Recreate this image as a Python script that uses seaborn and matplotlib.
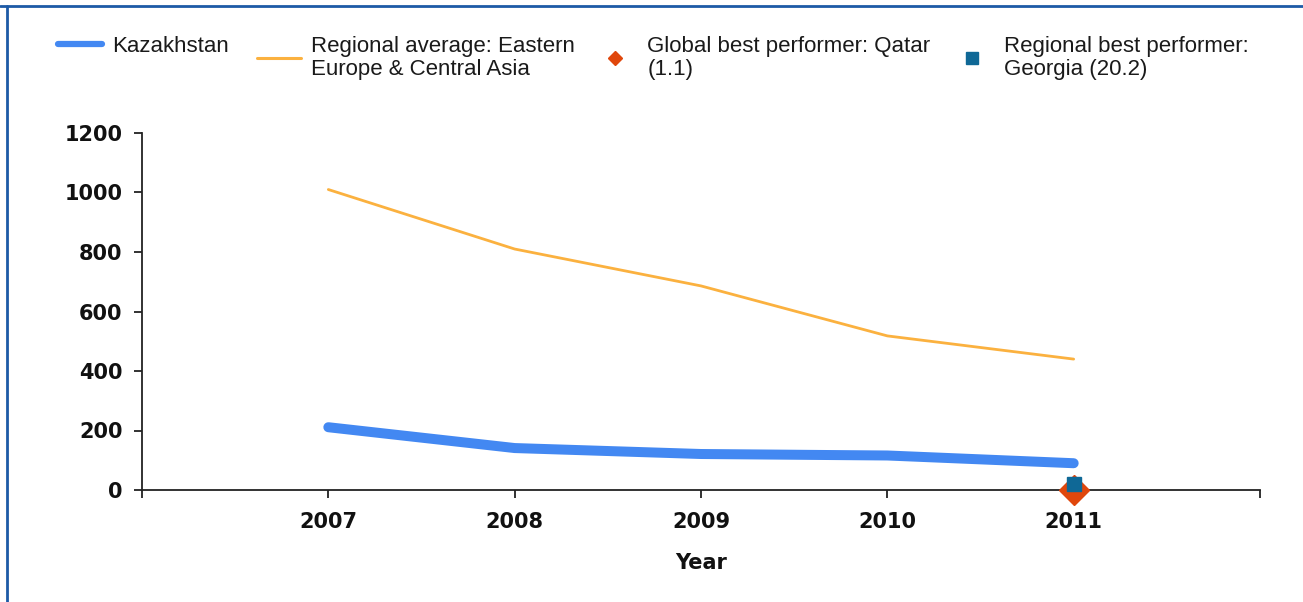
import matplotlib
matplotlib.use("Agg")
import matplotlib.pyplot as plt
from matplotlib.lines import Line2D
import pandas as pd
import seaborn as sns

years = [2007, 2008, 2009, 2010, 2011]
kazakhstan = [211, 141, 121, 116, 90]
regional_avg = [1010, 810, 686, 518, 440]
global_best_year = [2011]
global_best = [1.1]
regional_best_year = [2011]
regional_best = [20.2]

labels = ["Kazakhstan",
          "Regional average: Eastern\nEurope & Central Asia",
          "Global best performer: Qatar\n(1.1)",
          "Regional best performer:\nGeorgia (20.2)"]

c_kaz = "#4388f2"
c_avg = "#fbb13f"
c_glob = "#e0470c"
c_reg = "#0f6896"

sns.set_style("white")
plt.rcParams["font.family"] = ["DejaVu Sans"]

df = pd.DataFrame({"Year": years, "Kazakhstan": kazakhstan, "Regional": regional_avg})

fig = plt.figure(figsize=(13.03, 6.02), dpi=100)
ax = fig.add_axes([142 / 1303, 1 - 490 / 602, (1260 - 142) / 1303, (490 - 133) / 602])

sns.lineplot(data=df, x="Year", y="Regional", color=c_avg, lw=2.0, ax=ax)
sns.lineplot(data=df, x="Year", y="Kazakhstan", color=c_kaz, lw=7.2, ax=ax,
             solid_capstyle="round")
ax.plot(global_best_year, global_best, marker="D", ms=15, color=c_glob,
        ls="none", clip_on=False, zorder=5)
ax.plot(regional_best_year, regional_best, marker="s", ms=10.5, color=c_reg,
        ls="none", clip_on=False, zorder=6)

ax.set_xlim(2006, 2012)
ax.set_ylim(0, 1200)
ax.set_xticks(range(2006, 2013))
ax.set_xticklabels([""] + [str(y) for y in years] + [""])
ax.set_yticks(range(0, 1201, 200))
for s in ["top", "right"]:
    ax.spines[s].set_visible(False)
for s in ["left", "bottom"]:
    ax.spines[s].set_color("#222222")
    ax.spines[s].set_linewidth(1.3)
ax.tick_params(axis="both", bottom=True, left=True, direction="out", length=6,
               width=1.3, color="#222222", labelcolor="#111111", labelsize=15, pad=4)
ax.tick_params(axis="y", pad=8)
ax.tick_params(axis="x", pad=10)
for t in ax.get_xticklabels() + ax.get_yticklabels():
    t.set_fontweight("bold")
ax.set_xlabel("Year", fontsize=15, fontweight="bold", labelpad=15, color="#111111")
ax.set_ylabel("")

handles = [Line2D([], [], color=c_kaz, lw=4.5),
           Line2D([], [], color=c_avg, lw=2.2),
           Line2D([], [], color=c_glob, marker="D", ms=7, ls="none"),
           Line2D([], [], color=c_reg, marker="s", ms=9, ls="none")]
lefts = [58, 257, 593, 950]
for h, lab, x in zip(handles, labels, lefts):
    leg = fig.legend(handles=[h], labels=[lab], loc="upper left",
                     bbox_to_anchor=(x / 1303, 1 - 36 / 602), frameon=False,
                     borderpad=0, borderaxespad=0, handlelength=2.0, handletextpad=0.45,
                     prop={"family": "Liberation Sans", "size": 16},
                     labelspacing=0)
    for t in leg.get_texts():
        t.set_color("#1a1a1a")
        t.set_linespacing(1.15)

# frame lines at top and left edges
fig.add_artist(Line2D([0, 1], [1 - 6 / 602, 1 - 6 / 602], color="#1d5aa6", lw=2,
                      transform=fig.transFigure))
fig.add_artist(Line2D([6.5 / 1303, 6.5 / 1303], [0, 1 - 6 / 602], color="#1d5aa6", lw=2,
                      transform=fig.transFigure))

fig.savefig("out.png", dpi=100)
